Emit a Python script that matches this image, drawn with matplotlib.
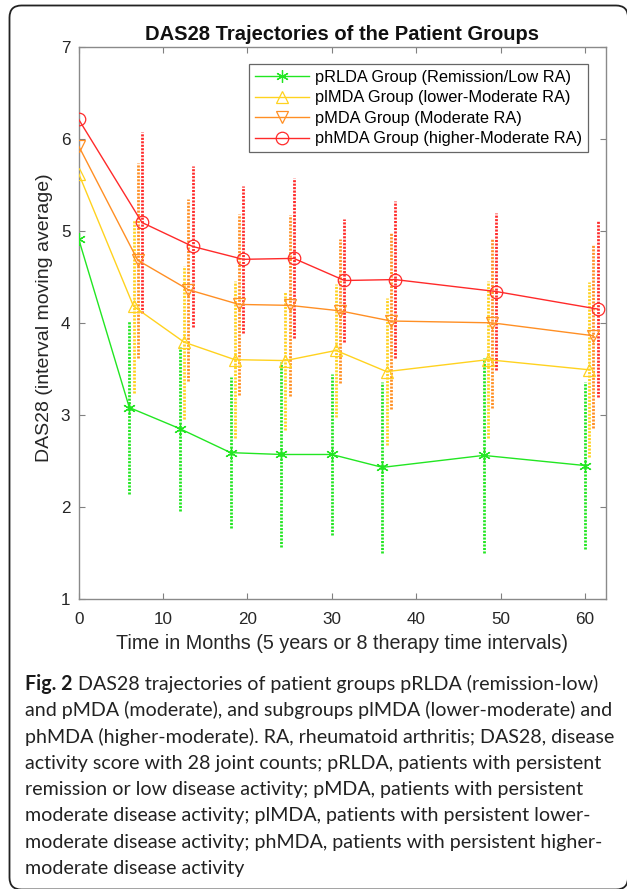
import matplotlib
matplotlib.use('Agg')
import matplotlib.pyplot as plt
from matplotlib.patches import FancyBboxPatch
import numpy as np

# months of each therapy interval
months = [0, 6, 12, 18, 24, 30, 36, 48, 60]

# interval moving average of DAS28 per group
prlda_mean = [4.91, 3.08, 2.85, 2.59, 2.57, 2.57, 2.43, 2.56, 2.45]
plmda_mean = [5.62, 4.18, 3.79, 3.60, 3.59, 3.70, 3.47, 3.60, 3.49]
pmda_mean = [5.92, 4.68, 4.36, 4.20, 4.19, 4.13, 4.02, 4.00, 3.86]
phmda_mean = [6.21, 5.09, 4.83, 4.69, 4.70, 4.46, 4.47, 4.34, 4.15]

# spread drawn as dotted bars (months 6..60)
prlda_sd = [0.94, 0.89, 0.82, 1.00, 0.87, 0.93, 1.06, 0.91]
plmda_sd = [0.94, 0.83, 0.85, 0.75, 0.72, 0.80, 0.85, 0.95]
pmda_sd = [1.06, 0.99, 0.98, 0.98, 0.78, 0.96, 0.92, 1.00]
phmda_sd = [0.98, 0.87, 0.80, 0.87, 0.67, 0.85, 0.85, 0.96]

labels = ['pRLDA Group (Remission/Low RA)', 'plMDA Group (lower-Moderate RA)',
          'pMDA Group (Moderate RA)', 'phMDA Group (higher-Moderate RA)']

caption_lines = [
  'DAS28 trajectories of patient groups pRLDA (remission-low)',
  'and pMDA (moderate), and subgroups plMDA (lower-moderate) and',
  'phMDA (higher-moderate). RA, rheumatoid arthritis; DAS28, disease',
  'activity score with 28 joint counts; pRLDA, patients with persistent',
  'remission or low disease activity; pMDA, patients with persistent',
  'moderate disease activity; plMDA, patients with persistent lower-',
  'moderate disease activity; phMDA, patients with persistent higher-',
  'moderate disease activity',
]

# asterisk marker like MATLAB's '*'
asterisk = (6, 2, 0)
groups = [
  (prlda_mean, prlda_sd, '#22e622', asterisk, 0.0),
  (plmda_mean, plmda_sd, '#ffd21f', '^', 0.5),
  (pmda_mean, pmda_sd, '#ff8f24', 'v', 1.0),
  (phmda_mean, phmda_sd, '#ff2a2a', 'o', 1.5),
]

plt.rcParams['font.family'] = ['Liberation Sans', 'DejaVu Sans']

fig = plt.figure(figsize=(6.27, 8.89), dpi=100)
ax = fig.add_axes([0.1255, 0.3262, 0.8410, 0.6213])

handles = []
for (mean, sd, color, marker, off), label in zip(groups, labels):
  x = np.array(months, dtype=float)
  x[1:] += off
  line, = ax.plot(x, mean, color=color, lw=1.0, marker=marker, ms=9,
                  mfc='none', mec=color, mew=0.9, label=label, zorder=3)
  handles.append(line)
  m = np.array(mean[1:])
  s = np.array(sd)
  ax.vlines(x[1:], m - s, m + s, colors=color, linewidth=2.0,
            linestyles=(0, (0.75, 0.5)), zorder=2)

ax.set_xlim(0, 62.5)
ax.set_ylim(1, 7)
ax.set_xticks([0, 10, 20, 30, 40, 50, 60])
ax.set_yticks([1, 2, 3, 4, 5, 6, 7])
ax.tick_params(direction='in', length=4, width=0.8, color='#808080', top=True, right=True,
               labelsize=12.3, labelcolor='#262626')
ax.tick_params(axis='x', pad=9)
ax.tick_params(axis='y', pad=6)
for sp in ax.spines.values():
  sp.set_color('#8a8a8a')
  sp.set_linewidth(1.0)

ax.set_title('DAS28 Trajectories of the Patient Groups', fontsize=14.5, fontweight='bold',
             color='#111111', pad=5)
ax.set_xlabel('Time in Months (5 years or 8 therapy time intervals)', fontsize=14.2, color='#262626')
ax.xaxis.set_label_coords(0.5, -0.0797)
ax.xaxis.label.set_va('center')
ax.set_ylabel('DAS28 (interval moving average)', fontsize=14.0, color='#262626')
ax.yaxis.set_label_coords(-0.064, 0.51)
ax.yaxis.label.set_va('center')

leg = ax.legend(handles=handles, loc='upper right', bbox_to_anchor=(0.966, 0.969),
                borderaxespad=0, fontsize=11.8, frameon=True, fancybox=False,
                edgecolor='#666666', framealpha=1, handlelength=3.3, handletextpad=0.35,
                labelspacing=0.33, borderpad=0.38)
leg.get_frame().set_linewidth(0.9)

# caption below the plot
renderer = fig.canvas.get_renderer()
probe = fig.text(0, 0, caption_lines[1], family='Lato', fontsize=10)
cap_size = 10 * 588 / probe.get_window_extent(renderer).width
probe.remove()

x0 = 25 / 627
first_base = 690
step = 26.3
for i, line in enumerate(caption_lines):
  y = 1 - (first_base + i * step) / 889
  if i == 0:
    bold = fig.text(x0, y, 'Fig. 2', family='Lato', fontweight='bold', fontsize=cap_size,
                    color='#1a1a1a', va='baseline')
    bw = bold.get_window_extent(renderer).width
    fig.text(x0 + (bw + 0.27 * cap_size * 100 / 72) / 627, y, line, family='Lato',
             fontsize=cap_size, color='#222222', va='baseline')
  else:
    fig.text(x0, y, line, family='Lato', fontsize=cap_size, color='#222222', va='baseline')

frame = FancyBboxPatch((0.095, -0.005), 6.185, 8.84, boxstyle='round,pad=0,rounding_size=0.12',
                       transform=fig.dpi_scale_trans, fill=False, lw=1.3, ec='#222222')
fig.add_artist(frame)

fig.savefig('out.png', dpi=100)
